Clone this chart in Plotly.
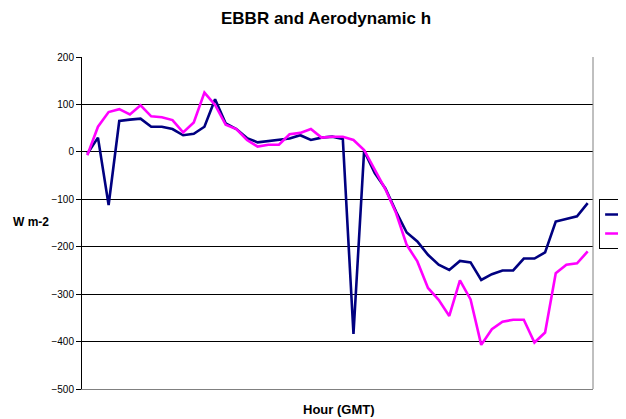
import plotly.graph_objects as go

hours = [0.0, 0.5, 1.0, 1.5, 2.0, 2.5, 3.0, 3.5, 4.0, 4.5, 5.0, 5.5,
         6.0, 6.5, 7.0, 7.5, 8.0, 8.5, 9.0, 9.5, 10.0, 10.5, 11.0, 11.5,
         12.0, 12.5, 13.0, 13.5, 14.0, 14.5, 15.0, 15.5, 16.0, 16.5, 17.0, 17.5,
         18.0, 18.5, 19.0, 19.5, 20.0, 20.5, 21.0, 21.5, 22.0, 22.5, 23.0, 23.5]

h_ebbr = [-4, 30, -112, 65, 68, 70, 53, 53, 48, 35, 38, 53,
          111, 60, 48, 29, 20, 23, 25, 28, 35, 25, 30, 32,
          27, -384, 2, -45, -77, -126, -170, -189, -217, -238, -249, -230,
          -233, -270, -258, -250, -250, -225, -225, -212, -147, -141, -136, -108]

aero_h = [-7, 53, 84, 90, 79, 98, 75, 73, 67, 41, 62, 125,
          99, 57, 48, 25, 11, 15, 15, 37, 40, 48, 30, 32,
          32, 25, 4, -37, -79, -129, -196, -231, -287, -312, -346, -271,
          -311, -407, -374, -358, -354, -354, -402, -381, -256, -238, -235, -210]

series_names = ["h EBBR", "aero h"]
series_colors = ["#000080", "#FF00FF"]

y_ticks = [200, 100, 0, -100, -200, -300, -400, -500]

FONT = "Arial, Liberation Sans, sans-serif"

# page body has an 8px margin, so the figure is 8px smaller and offset
fig = go.Figure()
for name, vals, col in zip(series_names, [h_ebbr, aero_h], series_colors):
    fig.add_trace(go.Scatter(x=hours, y=vals, mode="lines", name=name,
                             line=dict(color=col, width=2.6)))

fig.update_layout(
    width=618, height=411,
    margin=dict(l=74, r=33, t=49, b=30, autoexpand=False),
    paper_bgcolor="white", plot_bgcolor="white",
    font=dict(family=FONT, color="black", size=10),
    showlegend=True,
    legend=dict(x=1.012, y=(389 - 224) / 332, xanchor="left", yanchor="middle",
                bordercolor="black", borderwidth=1, bgcolor="white",
                itemwidth=30,
                font=dict(size=10, family=FONT), tracegroupgap=0),
    xaxis=dict(range=[-0.25, 23.75], showticklabels=False, ticks="",
               showgrid=False, zeroline=False, showline=True,
               linecolor="#808080", linewidth=1, mirror=False),
    yaxis=dict(range=[-500, 200], tickvals=y_ticks, ticks="outside",
               ticklen=5, tickcolor="black", showgrid=True,
               gridcolor="black", gridwidth=1, zeroline=False,
               showline=True, linecolor="black", linewidth=1,
               tickfont=dict(size=10, family=FONT)),
    shapes=[dict(type="line", xref="paper", yref="paper", x0=1, x1=1,
                 y0=0, y1=1, line=dict(color="#808080", width=1))],
    annotations=[
        dict(text="<b>EBBR and Aerodynamic h</b>", xref="paper", yref="paper",
             x=(326 - 82) / 511, y=1 + (57 - 19) / 332, showarrow=False,
             font=dict(size=17, family=FONT), xanchor="center", yanchor="middle"),
        dict(text="<b>W m-2</b>", xref="paper", yref="paper",
             x=-(82 - 31) / 511, y=(389 - 222) / 332, showarrow=False,
             font=dict(size=12, family=FONT), xanchor="center", yanchor="middle"),
        dict(text="<b>Hour (GMT)</b>", xref="paper", yref="paper",
             x=(338 - 82) / 511, y=-(410 - 389) / 332, showarrow=False,
             font=dict(size=13, family=FONT), xanchor="center", yanchor="middle"),
    ],
)

fig.write_html("out.html")
